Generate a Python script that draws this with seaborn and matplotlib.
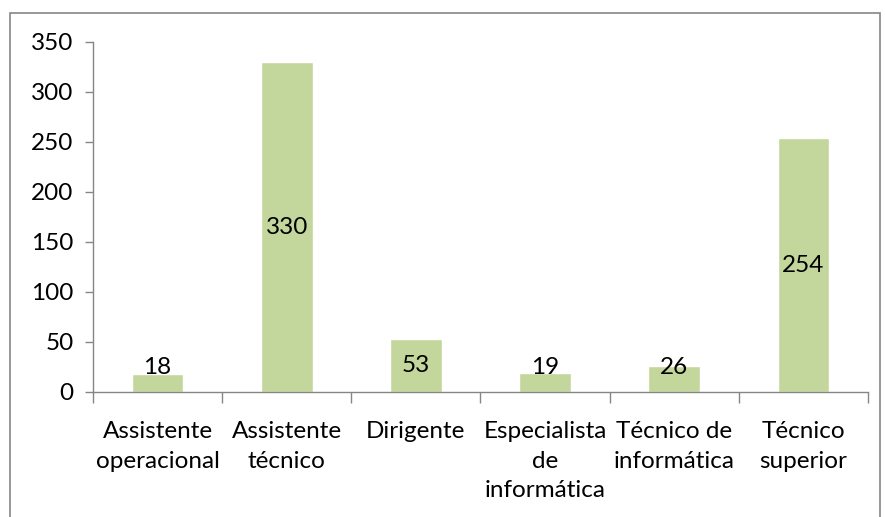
import matplotlib
matplotlib.use("Agg")
import matplotlib.pyplot as plt
import seaborn as sns
import pandas as pd

# Data
categorias = ["Assistente\noperacional", "Assistente\ntécnico", "Dirigente",
              "Especialista\nde\ninformática", "Técnico de\ninformática", "Técnico\nsuperior"]
valores = [18, 330, 53, 19, 26, 254]

df = pd.DataFrame({"categoria": categorias, "valor": valores})

sns.set_style("white")
plt.rcParams['font.family'] = ['Lato', 'DejaVu Sans']

fig = plt.figure(figsize=(8.85, 5.17), dpi=100)
ax = fig.add_axes([93 / 885, 1 - 392 / 517, (868 - 93) / 885, 350 / 517])

sns.barplot(data=df, x="categoria", y="valor", color="#C3D69B", width=0.4,
            saturation=1, ax=ax)

# value labels, centred in the bar (kept above the axis for small bars)
for i, v in enumerate(valores):
    ax.text(i, max(v / 2, 24), str(v), ha="center", va="center", fontsize=17.5, color="black")

ax.set_ylim(0, 350)
ax.set_yticks(range(0, 351, 50))
ax.set_xlim(-0.5, 5.5)
ax.set_xlabel("")
ax.set_ylabel("")
ax.tick_params(axis="y", labelsize=17.5, labelcolor="black", length=6, width=1,
               color="#868686", left=True, pad=8)
ax.tick_params(axis="x", labelsize=17.5, labelcolor="black", length=0, pad=21)
ax.set_xticks(range(6))
ax.set_xticklabels(categorias, linespacing=1.5)
for lbl in ax.get_xticklabels():
    lbl.set_va("top")

# category boundary ticks on x axis
ax.set_xticks([x - 0.5 for x in range(7)], minor=True)
ax.tick_params(axis="x", which="minor", length=8, width=1, color="#868686", bottom=True)

for side in ["top", "right"]:
    ax.spines[side].set_visible(False)
for side in ["left", "bottom"]:
    ax.spines[side].set_color("#868686")
    ax.spines[side].set_linewidth(1)

# outer chart border (bottom edge lies outside the picture)
border = plt.Rectangle((10 / 885, -0.05), 870 / 885, 1.05 - 13 / 517, transform=fig.transFigure,
                       fill=False, edgecolor="#868686", linewidth=1.2)
fig.patches.append(border)

fig.savefig("out.png", dpi=100)
